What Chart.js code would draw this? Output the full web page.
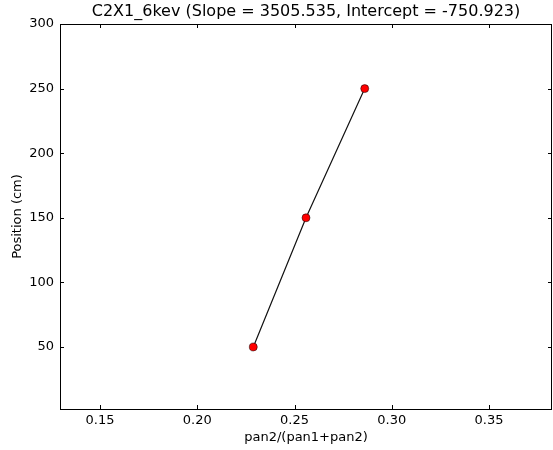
<!DOCTYPE html>
<html>
<head>
<meta charset="utf-8">
<script src="https://cdn.jsdelivr.net/npm/chart.js@4"></script>
<style>
  html, body { margin: 0; padding: 0; background: #fff; }
  #wrap { width: 553px; height: 450px; }
</style>
</head>
<body>
<div id="wrap"><canvas id="c" width="553" height="450"></canvas></div>
<script>
const chartTitle = 'C2X1_6kev (Slope = 3505.535, Intercept = -750.923)';
const xValues = [0.2288, 0.2559, 0.2861];
const yValues = [50, 150, 250];
const xTicks = [0.15, 0.20, 0.25, 0.30, 0.35];
const yTicks = [50, 100, 150, 200, 250, 300];
const xLabel = 'pan2/(pan1+pan2)';
const yLabel = 'Position (cm)';

const FONT = 'DejaVu Sans';

const framePlugin = {
  id: 'frame',
  beforeDatasetsDraw(chart) {
    const ctx = chart.ctx, ca = chart.chartArea;
    const xs = chart.scales.x, ys = chart.scales.y;
    ctx.save();
    ctx.strokeStyle = '#000';
    ctx.lineWidth = 1;
    const tl = 4;
    ctx.beginPath();
    xs.ticks.forEach(t => {
      const px = Math.round(xs.getPixelForValue(t.value)) + 0.5;
      ctx.moveTo(px, ca.bottom); ctx.lineTo(px, ca.bottom - tl);
      ctx.moveTo(px, ca.top); ctx.lineTo(px, ca.top + tl);
    });
    ys.ticks.forEach(t => {
      const py = Math.round(ys.getPixelForValue(t.value)) + 0.5;
      ctx.moveTo(ca.left, py); ctx.lineTo(ca.left + tl, py);
      ctx.moveTo(ca.right, py); ctx.lineTo(ca.right - tl, py);
    });
    ctx.stroke();
    ctx.strokeRect(Math.round(ca.left) + 0.5, Math.round(ca.top) + 0.5,
                   Math.round(ca.right - ca.left) - 1, Math.round(ca.bottom - ca.top));
    ctx.restore();
  },
  afterDraw(chart) {
    const ctx = chart.ctx, ca = chart.chartArea;
    ctx.save();
    ctx.fillStyle = '#000';
    ctx.font = '16px "' + FONT + '"';
    ctx.textAlign = 'center';
    ctx.textBaseline = 'middle';
    ctx.fillText(chartTitle, (ca.left + ca.right) / 2, 12);
    ctx.restore();
  }
};

new Chart(document.getElementById('c'), {
  type: 'scatter',
  data: {
    datasets: [{
      data: xValues.map((x, i) => ({ x: x, y: yValues[i] })),
      showLine: true,
      borderColor: '#111',
      borderWidth: 1.2,
      pointRadius: 4,
      pointHoverRadius: 4,
      pointBackgroundColor: '#ff0000',
      pointBorderColor: '#000',
      pointBorderWidth: 0.5,
      tension: 0,
      clip: false
    }]
  },
  options: {
    responsive: false,
    animation: false,
    devicePixelRatio: 1,
    layout: { autoPadding: false, padding: { top: 24, right: 1, left: 0, bottom: 0 } },
    plugins: {
      legend: { display: false },
      tooltip: { enabled: false },
      title: { display: false }
    },
    scales: {
      x: {
        type: 'linear',
        min: 0.1294,
        max: 0.3824,
        afterBuildTicks: s => { s.ticks = xTicks.map(v => ({ value: v })); },
        afterFit: s => { s.height = 41; s.paddingLeft = 0; s.paddingRight = 0; },
        grid: { display: false, drawTicks: false },
        border: { display: false },
        ticks: {
          color: '#000',
          font: { family: FONT, size: 13 },
          padding: 4,
          maxRotation: 0,
          autoSkip: false,
          callback: v => Number(v).toFixed(2)
        },
        title: {
          display: true,
          text: xLabel,
          color: '#000',
          font: { family: FONT, size: 13 },
          padding: { top: 0, bottom: 5 }
        }
      },
      y: {
        type: 'linear',
        min: 2,
        max: 300,
        afterBuildTicks: s => { s.ticks = yTicks.map(v => ({ value: v })); },
        afterFit: s => { s.width = 60; s.paddingTop = 0; s.paddingBottom = 0; },
        grid: { display: false, drawTicks: false },
        border: { display: false },
        ticks: {
          color: '#000',
          font: { family: FONT, size: 13 },
          padding: 6,
          autoSkip: false,
          callback: v => String(v)
        },
        title: {
          display: true,
          text: yLabel,
          color: '#000',
          font: { family: FONT, size: 13 },
          padding: { top: 10, bottom: 0 }
        }
      }
    }
  },
  plugins: [framePlugin]
});
</script>
</body>
</html>
